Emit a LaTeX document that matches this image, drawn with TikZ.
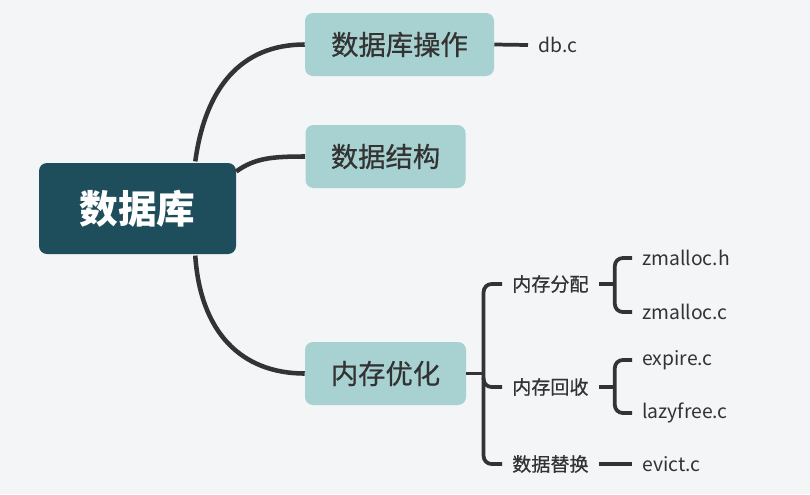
\documentclass[tikz,border=0pt]{standalone}
\usepackage{fontspec}
\setmainfont{Noto Sans CJK SC}
\newfontfamily\medfont[FakeBold=0.6]{Noto Sans CJK SC}
\usetikzlibrary{calc}
\definecolor{bgc}{HTML}{F4F5F7}
\definecolor{rootc}{HTML}{1E4D5C}
\definecolor{boxc}{HTML}{A8D1D1}
\definecolor{linec}{HTML}{333333}
\definecolor{txtc}{HTML}{333333}
\tikzset{
  rootbox/.style={fill=rootc, rounded corners=6pt, text=white, font=\fontsize{29}{32}\selectfont\bfseries, inner sep=0pt},
  topicbox/.style={fill=boxc, rounded corners=6pt, text=txtc, font=\medfont\fontsize{20.5}{24}\selectfont, inner sep=0pt},
  sublabel/.style={text=txtc, font=\medfont\fontsize{14.3}{17}\selectfont, inner sep=0pt, anchor=west},
  leaf/.style={text=txtc, font=\fontsize{14.5}{17}\selectfont, inner sep=0pt, anchor=west},
  mainline/.style={draw=linec, line width=3.4pt},
  subline/.style={draw=linec, line width=2.8pt, rounded corners=6pt},
}
\begin{document}
\begin{tikzpicture}[x=0.75pt,y=-0.75pt]
\fill[bgc] (0,0) rectangle (810,494);
\useasboundingbox (0,0) rectangle (810,494);

% nodes
\node[rootbox, minimum width=147.75pt, minimum height=68.25pt] (root) at (137.5,208.5) {数据库};
\node[topicbox, minimum width=141.75pt, minimum height=47.25pt] (t1) at (399.5,44.5) {数据库操作};
\node[topicbox, minimum width=120pt, minimum height=47.25pt] (t2) at (385.5,156.5) {数据结构};
\node[topicbox, minimum width=120.75pt, minimum height=47.25pt] (t3) at (385.5,373.5) {内存优化};

\node[leaf] (dbc) at (538,45) {db.c};

\node[sublabel] (l1) at (512,284) {内存分配};
\node[sublabel] (l2) at (512,387) {内存回收};
\node[sublabel] (l3) at (512,464) {数据替换};

\node[leaf] (z1) at (642,258) {zmalloc.h};
\node[leaf] (z2) at (642,312) {zmalloc.c};
\node[leaf] (e1) at (642,360) {expire.c};
\node[leaf] (e2) at (642,413) {lazyfree.c};
\node[leaf] (e3) at (642,464) {evict.c};

% coordinates
\coordinate (r1) at ($(root.north east)+(-30.75pt,1pt)$);
\coordinate (r2) at ($(root.north east)+(0,-6.5pt)$);
\coordinate (r3) at ($(root.south east)+(-30.75pt,-1pt)$);
\coordinate (b1) at (t1.west);
\coordinate (b2) at (t2.west);
\coordinate (b3) at (t3.west);

% main connectors
\draw[mainline] (r1) .. controls ++(7.5pt,55pt) and ($(b1)+(-48pt,0)$) .. (b1);
\draw[mainline] (r2) .. controls ++(14pt,10pt) and ($(b2)+(-25pt,0)$) .. (b2);
\draw[mainline] (r3) .. controls ++(3.75pt,-57pt) and ($(b3)+(-48pt,0)$) .. (b3);

% db.c
\draw[subline] (t1.east) -- ($(dbc.west)+(-7.5pt,0)$);

% memory subtree
\coordinate (v) at ($(t3.east)+(13pt,0)$);
\draw[subline] (t3.east) -- (v);
\draw[subline] ($(l1.west)+(-7.5pt,0)$) -| (v) |- ($(l3.west)+(-7.5pt,0)$);
\draw[subline] ($(v)+(0,-3pt)$) |- ($(l2.west)+(-7.5pt,0)$);

% level 2 brackets
\coordinate (s1) at ($(l1.east)+(19.5pt,0)$);
\draw[subline] ($(l1.east)+(7.5pt,0)$) -- (s1);
\draw[subline] ($(z1.west)+(-7.5pt,0)$) -| (s1) |- ($(z2.west)+(-7.5pt,0)$);

\coordinate (s2) at ($(l2.east)+(19.5pt,0)$);
\draw[subline] ($(l2.east)+(7.5pt,0)$) -- (s2);
\draw[subline] ($(e1.west)+(-7.5pt,0)$) -| (s2) |- ($(e2.west)+(-7.5pt,0)$);

\draw[subline] ($(l3.east)+(7.5pt,0)$) -- ($(e3.west)+(-7.5pt,0)$);
\end{tikzpicture}
\end{document}
